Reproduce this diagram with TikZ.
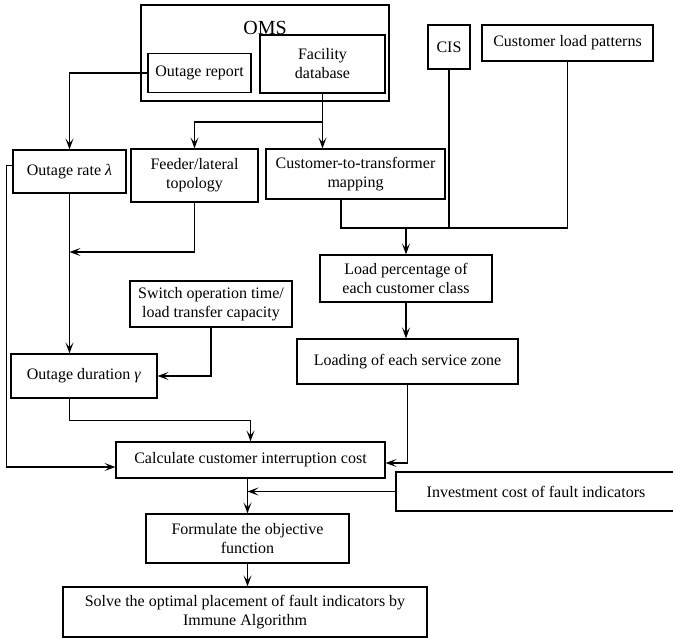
\documentclass[tikz,border=0pt]{standalone}
\usepackage{fontspec}
\setmainfont{Liberation Serif}
\usetikzlibrary{
  positioning,
  arrows.meta,
  calc
}

\begin{document}
\begin{tikzpicture}[
  x=1pt, y=-1pt,
  >={Stealth[length=11pt,width=8pt,inset=5pt]},
  flowbox/.style={
    rectangle, draw, line width=1.2pt, align=center, inner sep=2pt,
    fill=white, font=\fontsize{16}{19}\selectfont
  },
  flowline/.style={line width=1.2pt}
]
\useasboundingbox (0,0) rectangle (673,639);

% data sources
\node[flowbox, minimum width=248pt, minimum height=96pt] (oms) at (265,53) {};
\node[font=\fontsize{20}{22}\selectfont] (omstitle) at (265,28) {OMS};
\node[flowbox, minimum width=103pt, minimum height=39pt] (rep) at (199.5,73) {Outage report};
\node[flowbox, minimum width=125pt, minimum height=58pt] (fac) at (322.5,64) {Facility\\database};
\node[flowbox, minimum width=42pt, minimum height=44pt] (cis) at (449,47) {CIS};
\node[flowbox, minimum width=171pt, minimum height=36pt] (clp) at (567.5,43) {Customer load patterns};

% intermediate quantities
\node[flowbox, minimum width=113pt, minimum height=43pt] (rate) at (69.5,171.5) {Outage rate \textit{λ}};
\node[flowbox, minimum width=127pt, minimum height=53pt] (feed) at (194.5,175.5) {Feeder/lateral\\topology};
\node[flowbox, minimum width=179pt, minimum height=50pt] (ctm) at (355.5,174) {Customer-to-transformer\\mapping};
\node[flowbox, minimum width=172pt, minimum height=47pt] (lpc) at (406,278.5) {Load percentage of\\each customer class};
\node[flowbox, minimum width=162pt, minimum height=46pt] (sw) at (211,304) {Switch operation time/\\load transfer capacity};
\node[flowbox, minimum width=221pt, minimum height=45pt] (lsz) at (407.5,361.5) {Loading of each service zone};
\node[flowbox, minimum width=146pt, minimum height=44pt] (dur) at (84,376) {Outage duration \textit{γ}};

% cost and optimisation
\node[flowbox, minimum width=269pt, minimum height=36pt] (calc) at (250.5,460) {Calculate customer interruption cost};
\node[flowbox, minimum width=280pt, minimum height=39pt] (inv) at (536,491.5) {Investment cost of fault indicators};
\node[flowbox, minimum width=203pt, minimum height=49pt] (form) at (247.5,538.5) {Formulate the objective\\function};
\node[flowbox, minimum width=364pt, minimum height=50pt] (solve) at (245,612) {Solve the optimal placement of fault indicators by\\Immune Algorithm};

\coordinate (fork) at (fac.south |- 0,122);
\coordinate (merge) at (lpc.north |- 0,228);

\draw[->, flowline] (rep.west) -| (rate.north);
\draw[->, flowline] (fac.south) -- (fac.south |- ctm.north);
\draw[->, flowline] (fork) -| (feed.north);
\draw[->, flowline] (rate.south) -- (rate.south |- dur.north);
\draw[->, flowline] (feed.south) |- (rate.south |- 0,252);
\draw[->, flowline] (sw.south) |- (dur.east);
\draw[->, flowline] (rate.south |- dur.south) -- ++(0,22) -| (calc.north);
\draw[->, flowline] ([yshift=6pt]rate.west) -- ++(-6,0) |- ([yshift=-7pt]calc.west);

\draw[flowline] ([xshift=-14.5pt]ctm.south) |- (clp.south |- merge) -- (clp.south);
\draw[flowline] (cis.south) -- (cis.south |- merge);
\draw[->, flowline] (merge) -- (lpc.north);
\draw[->, flowline] (lpc.south) -- (lpc.south |- lsz.north);
\draw[->, flowline] (lsz.south) |- ([yshift=-3pt]calc.east);

\draw[->, flowline] (form.north |- calc.south) -- (form.north);
\draw[->, flowline] (inv.west) -- (form.north |- inv.west);
\draw[->, flowline] (form.south) -- (form.south |- solve.north);

\end{tikzpicture}
\end{document}
